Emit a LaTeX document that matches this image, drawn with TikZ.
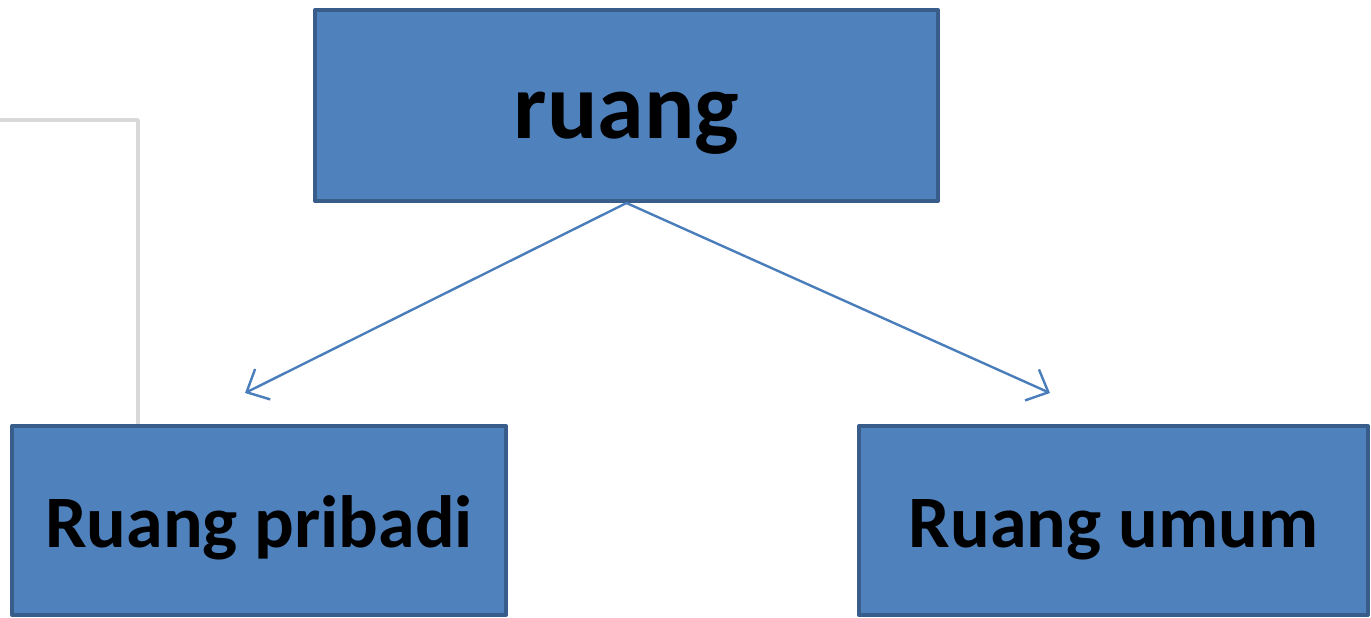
\documentclass[tikz,border=0pt]{standalone}
\usepackage{fontspec}
\setmainfont{Carlito}
\usepackage{tikz}
\usetikzlibrary{arrows.meta}
\definecolor{boxfill}{HTML}{4F81BD}
\definecolor{boxline}{HTML}{385D8A}
\definecolor{arrowblue}{HTML}{4A7EBB}
\definecolor{framegray}{HTML}{D9D9D9}
\newcommand{\boxtext}[2]{\raisebox{-#1}[0pt][0pt]{#2}}
\tikzset{
  ruangbox/.style={draw=boxline,fill=boxfill,line width=2pt,inner sep=0pt,
    font=\bfseries\fontsize{37}{42}\selectfont,text=black},
  ruangarrow/.style={draw=arrowblue,line width=1.2pt,-{Straight Barb[length=9pt,width=17pt]}}
}
\begin{document}
\begin{tikzpicture}[line cap=round,line join=round,x=0.5pt,y=-0.5pt]
\useasboundingbox (0,0) rectangle (1371,617);
\draw [framegray,line width=1.8pt] (0,120) -- (138,120) -- (138,424);
\node [ruangbox,minimum width=311.5pt,minimum height=95.5pt,
  font=\bfseries\fontsize{47}{54}\selectfont] (ruang) at (626.5,105.5) {\boxtext{16.25pt}{ruang}};
\node [ruangbox,minimum width=247pt,minimum height=94.5pt] (pribadi) at (259,520.5) {\boxtext{13.25pt}{Ruang pribadi}};
\node [ruangbox,minimum width=254.5pt,minimum height=94.5pt] (umum) at (1113.5,520.5) {\boxtext{13.25pt}{Ruang umum}};
\coordinate (pribadiend) at (245,393);
\coordinate (umumend) at (1050,393);
\draw [ruangarrow] (ruang.south) -- (pribadiend);
\draw [ruangarrow] (ruang.south) -- (umumend);
\end{tikzpicture}
\end{document}
